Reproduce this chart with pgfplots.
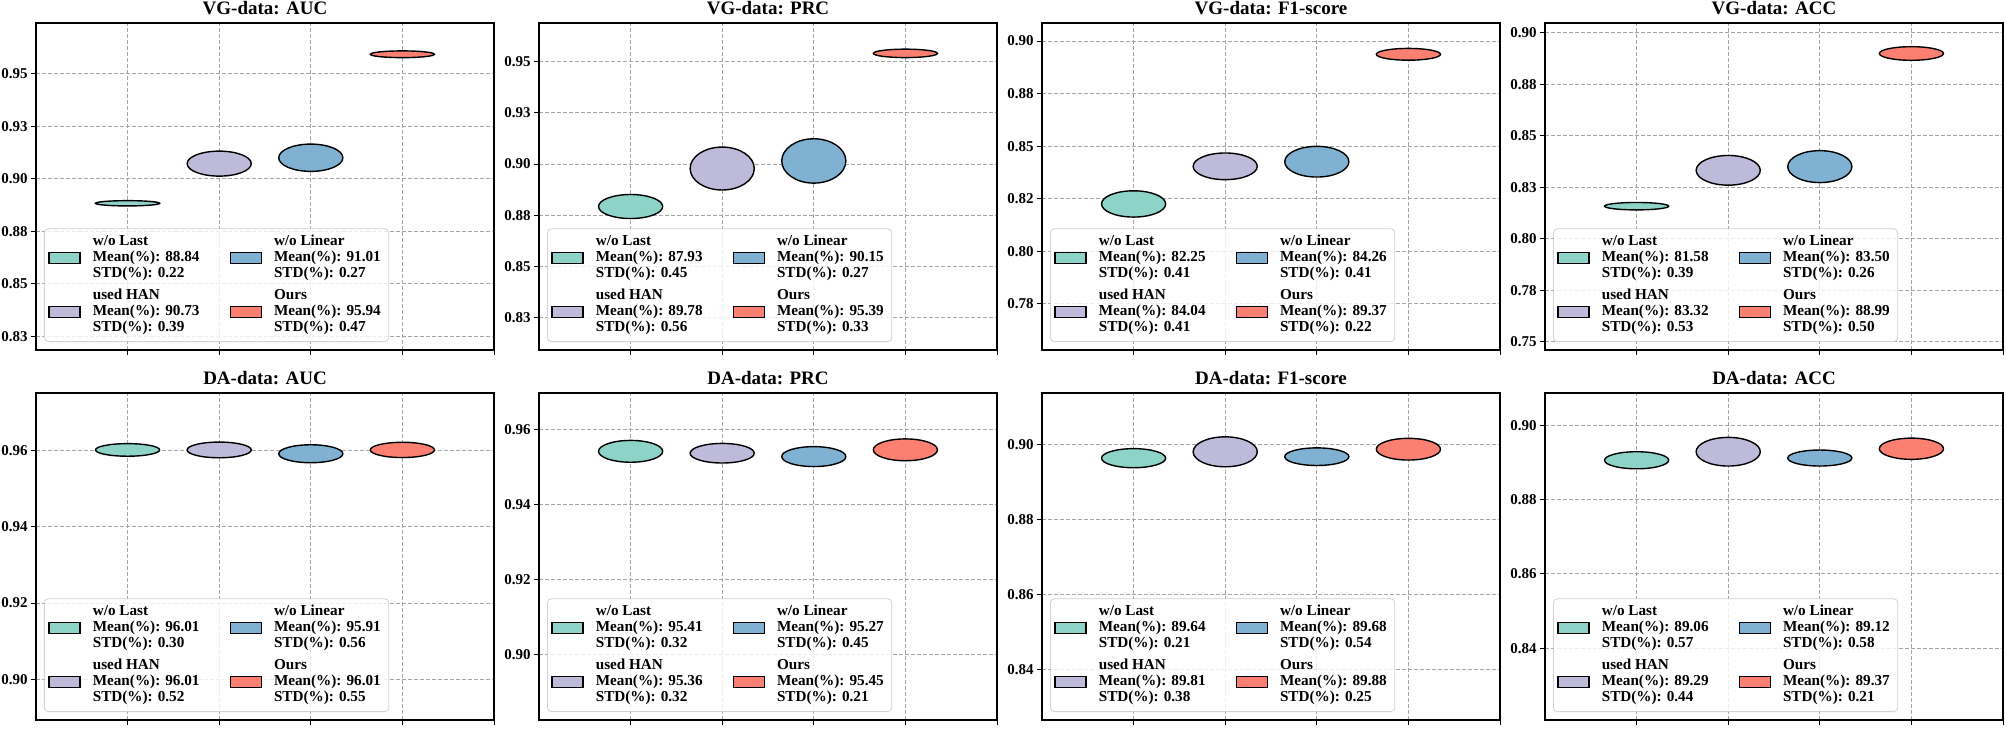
\documentclass[border=0pt]{standalone}
\usepackage{fontspec}
\setmainfont{Liberation Serif}
\usepackage{pgfplots}
\pgfplotsset{compat=1.18}
\usepackage{pgfplotstable}
\usepgfplotslibrary{groupplots}
\usetikzlibrary{shapes.geometric}

\definecolor{cA}{HTML}{8DD3C7}
\definecolor{cB}{HTML}{BEBADA}
\definecolor{cC}{HTML}{80B1D3}
\definecolor{cD}{HTML}{FB8072}

% x = method (1 w/o Last, 2 used HAN, 3 w/o Linear, 4 Ours), y = mean, h = drawn ellipse height
\pgfplotstableread{
x y h
1 0.8884 0.0025
2 0.9073 0.0119
3 0.9101 0.0130
4 0.9594 0.0032
}\vgauc
\pgfplotstableread{
x y h
1 0.8793 0.0117
2 0.8978 0.0209
3 0.9015 0.0216
4 0.9539 0.0041
}\vgprc
\pgfplotstableread{
x y h
1 0.8225 0.0125
2 0.8404 0.0127
3 0.8426 0.0146
4 0.8937 0.0056
}\vgfone
\pgfplotstableread{
x y h
1 0.8158 0.0036
2 0.8332 0.0144
3 0.8350 0.0155
4 0.8899 0.0066
}\vgacc
\pgfplotstableread{
x y h
1 0.9601 0.0033
2 0.9601 0.0041
3 0.9591 0.0047
4 0.9601 0.0040
}\daauc
\pgfplotstableread{
x y h
1 0.9541 0.0058
2 0.9536 0.0052
3 0.9527 0.0053
4 0.9545 0.0058
}\daprc
\pgfplotstableread{
x y h
1 0.8964 0.0051
2 0.8981 0.0080
3 0.8968 0.0047
4 0.8988 0.0058
}\dafone
\pgfplotstableread{
x y h
1 0.8906 0.0046
2 0.8929 0.0077
3 0.8912 0.0043
4 0.8937 0.0057
}\daacc

\pgfplotsset{
  rowA/.style={skip coords between index={1}{4}},
  rowB/.style={skip coords between index={0}{1}, skip coords between index={2}{4}},
  rowC/.style={skip coords between index={0}{2}, skip coords between index={3}{4}},
  rowD/.style={skip coords between index={0}{3}},
  ell/.style={draw=none, mark=none, fill=#1,
    visualization depends on={\thisrow{h} \as \hh},
    nodes near coords={},
    every node near coord/.style={ellipse, draw=black, fill=#1, line width=0.7pt,
      inner sep=0pt, outer sep=0pt, anchor=center, minimum width=32.06pt,
      minimum height={\hh*163.5/(\pgfkeysvalueof{/pgfplots/ymax}-\pgfkeysvalueof{/pgfplots/ymin})}},
    legend image code/.code={%
      \draw[sharp corners, fill=#1, draw=black, line width=0.7pt, fill opacity=1]
        (0pt,-2.6pt) rectangle (15.5pt,2.9pt);}
  },
}

\newcommand\lent[3]{\begin{tabular}[c]{@{}l@{}}#1\\Mean(\%): #2\\STD(\%): #3\end{tabular}}

\newcommand\ellplots[9]{%
  \addplot[ell=cA, rowA] table {#1}; \addlegendentry{\lent{w/o Last}{#2}{#3}}
  \addplot[ell=cC, rowC] table {#1}; \addlegendentry{\lent{w/o Linear}{#6}{#7}}
  \addplot[ell=cB, rowB] table {#1}; \addlegendentry{\lent{used HAN}{#4}{#5}}
  \addplot[ell=cD, rowD] table {#1}; \addlegendentry{\lent{Ours}{#8}{#9}}
}

\begin{document}
\begin{tikzpicture}
\begin{groupplot}[
  group style={group size=4 by 2, horizontal sep=22.5pt, vertical sep=21.5pt},
  width=229pt, height=163.5pt, scale only axis,
  xmin=0, xmax=5, xtick={1,2,3,4,5}, xticklabels={},
  tick align=outside, tick pos=left, major tick length=2.5pt,
  tick style={black, line width=0.5pt},
  axis line style={line width=1.3pt},
  grid=major,
  major grid style={gray!70, dash pattern=on 2pt off 1pt, line width=0.5pt},
  yticklabel style={font=\fontsize{7.5}{9}\selectfont\bfseries, xshift=1.8pt},
  title style={font=\fontsize{9.5}{11}\selectfont\bfseries, yshift=-5.5pt},
  legend columns=2,
  legend style={at={(0,0)}, anchor=south west, xshift=4pt, yshift=4pt,
    draw=gray!35, rounded corners=2pt, fill=white, fill opacity=0.8, text opacity=1,
    font=\fontsize{7.6}{8.15}\selectfont\bfseries,
    inner xsep=2pt, inner ysep=1.5pt, row sep=0.5pt, column sep=4pt,
    nodes={inner ysep=1pt, text depth=},
    /tikz/every even column/.append style={column sep=13pt}},
  legend cell align=left,
]
\nextgroupplot[title={VG-data: AUC}, ymin=0.8185, ymax=0.9743,
  ytick={0.825,0.85,0.875,0.9,0.925,0.95}, yticklabels={0.83,0.85,0.88,0.90,0.93,0.95}]
\ellplots{\vgauc}{88.84}{0.22}{90.73}{0.39}{91.01}{0.27}{95.94}{0.47}
\nextgroupplot[title={VG-data: PRC}, ymin=0.8094, ymax=0.9687,
  ytick={0.825,0.85,0.875,0.9,0.925,0.95}, yticklabels={0.83,0.85,0.88,0.90,0.93,0.95}]
\ellplots{\vgprc}{87.93}{0.45}{89.78}{0.56}{90.15}{0.27}{95.39}{0.33}
\nextgroupplot[title={VG-data: F1-score}, ymin=0.7530, ymax=0.9086,
  ytick={0.775,0.8,0.825,0.85,0.875,0.9}, yticklabels={0.78,0.80,0.82,0.85,0.88,0.90}]
\ellplots{\vgfone}{82.25}{0.41}{84.04}{0.41}{84.26}{0.41}{89.37}{0.22}
\nextgroupplot[title={VG-data: ACC}, ymin=0.7460, ymax=0.9047,
  ytick={0.75,0.775,0.8,0.825,0.85,0.875,0.9}, yticklabels={0.75,0.78,0.80,0.83,0.85,0.88,0.90}]
\ellplots{\vgacc}{81.58}{0.39}{83.32}{0.53}{83.50}{0.26}{88.99}{0.50}
\nextgroupplot[title={DA-data: AUC}, ymin=0.8894, ymax=0.9750,
  ytick={0.90,0.92,0.94,0.96}, yticklabels={0.90,0.92,0.94,0.96}]
\ellplots{\daauc}{96.01}{0.30}{96.01}{0.52}{95.91}{0.56}{96.01}{0.55}
\nextgroupplot[title={DA-data: PRC}, ymin=0.8827, ymax=0.9696,
  ytick={0.90,0.92,0.94,0.96}, yticklabels={0.90,0.92,0.94,0.96}]
\ellplots{\daprc}{95.41}{0.32}{95.36}{0.32}{95.27}{0.45}{95.45}{0.21}
\nextgroupplot[title={DA-data: F1-score}, ymin=0.8265, ymax=0.9138,
  ytick={0.84,0.86,0.88,0.90}, yticklabels={0.84,0.86,0.88,0.90}]
\ellplots{\dafone}{89.64}{0.21}{89.81}{0.38}{89.68}{0.54}{89.88}{0.25}
\nextgroupplot[title={DA-data: ACC}, ymin=0.8207, ymax=0.9087,
  ytick={0.84,0.86,0.88,0.90}, yticklabels={0.84,0.86,0.88,0.90}]
\ellplots{\daacc}{89.06}{0.57}{89.29}{0.44}{89.12}{0.58}{89.37}{0.21}
\end{groupplot}
\pgfresetboundingbox
\path ([xshift=-18pt,yshift=11.5pt]group c1r1.north west) rectangle ([xshift=1.5pt,yshift=-5pt]group c4r2.south east);
\end{tikzpicture}
\end{document}
